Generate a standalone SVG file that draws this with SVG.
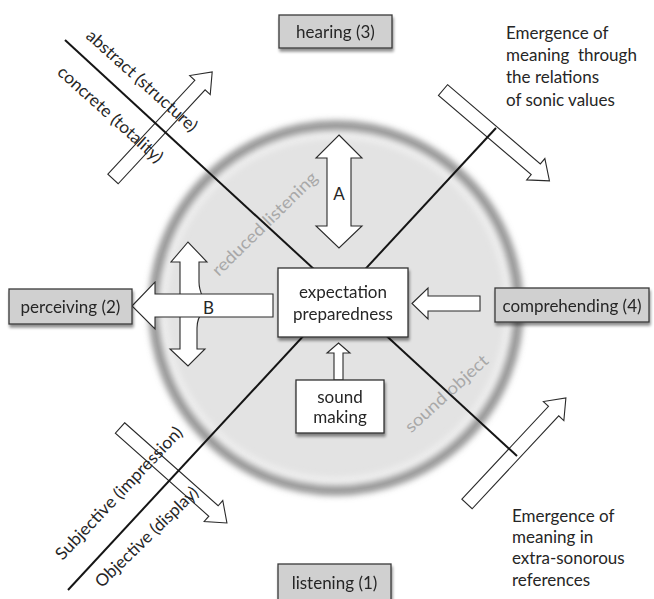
<svg xmlns="http://www.w3.org/2000/svg" width="654" height="599" viewBox="0 0 654 599">
  <defs>
    <filter id="ringBlur" x="-20%" y="-20%" width="140%" height="140%">
      <feGaussianBlur stdDeviation="3"/>
    </filter>
    <filter id="boxShadow" x="-20%" y="-20%" width="150%" height="160%">
      <feGaussianBlur in="SourceAlpha" stdDeviation="1.6"/>
      <feOffset dx="1" dy="2.5" result="off"/>
      <feComponentTransfer><feFuncA type="linear" slope="0.45"/></feComponentTransfer>
      <feMerge><feMergeNode/><feMergeNode in="SourceGraphic"/></feMerge>
    </filter>
  </defs>
  <style>
    .lbl { font-family: Lato, "Open Sans", sans-serif; font-size: 17px; fill: #262626; }
    .box-lbl { font-family: Lato, "Open Sans", sans-serif; font-size: 17px; fill: #262626; text-anchor: middle; }
    .axis-lbl { font-family: Lato, "Open Sans", sans-serif; font-size: 17px; fill: #262626; }
    .zone-lbl { font-family: Lato, "Open Sans", sans-serif; font-size: 17px; fill: #a8a8a8; }
    .mode { fill: #d0d0d0; stroke: #3a3a3a; stroke-width: 1.3; }
    .plain { fill: #ffffff; stroke: #333333; stroke-width: 1.3; }
    .arrow { fill: #ffffff; stroke: #2a2a2a; stroke-width: 1.1; stroke-linejoin: miter; }
    .axis { stroke: #151515; stroke-width: 2; fill: none; }
  </style>

  <!-- field of listening -->
  <g id="field">
    <circle cx="336" cy="308" r="183" fill="#e3e3e3"/>
    <circle cx="336" cy="308" r="173" fill="none" stroke="#f1f1f1" stroke-width="6" filter="url(#ringBlur)"/>
    <circle cx="336" cy="308" r="183" fill="none" stroke="#939393" stroke-width="9" filter="url(#ringBlur)"/>
  </g>

  <!-- outer diagonal arrows -->
  <g id="outer-arrows">
    <path class="arrow" d="M0,-7 L128,-7 L128,-14 L146,0 L128,14 L128,7 L0,7 Z" transform="translate(113,179) rotate(-47.2)"/>
    <path class="arrow" d="M0,-7 L122,-7 L122,-14 L140,0 L122,14 L122,7 L0,7 Z" transform="translate(443,90) rotate(40.5)"/>
    <path class="arrow" d="M0,-7 L125,-7 L125,-14 L143,0 L125,14 L125,7 L0,7 Z" transform="translate(120,428) rotate(41.6)"/>
    <path class="arrow" d="M0,-7 L127,-7 L127,-14 L145,0 L127,14 L127,7 L0,7 Z" transform="translate(467,504) rotate(-47)"/>
  </g>

  <!-- connectors -->
  <g id="connectors">
    <line class="axis" x1="65" y1="40" x2="517" y2="456"/>
    <line class="axis" x1="68" y1="590" x2="496" y2="128"/>
    <!-- A : hearing <-> expectation -->
    <path class="arrow" d="M339,135 L362,158 L351,158 L351,226 L362,226 L339,248 L316,226 L327,226 L327,158 L316,158 Z"/>
    <!-- B : vertical split -->
    <path class="arrow" d="M180,300 L180,262 L171,262 L188,242 L207,262 L199,262 L199,282 C199,290 201,293 204,300 Z"/>
    <path class="arrow" d="M180,312 L180,349 L170,349 L188,366 L205,349 L197,349 L197,328 C197,321 199,316 203,312 Z"/>
    <!-- B : expectation -> perceiving -->
    <path class="arrow" d="M132,306 L155,282 L155,294 L273,294 L273,317 L155,317 L155,329 Z"/>
    <!-- comprehending -> expectation -->
    <path class="arrow" d="M412,303.5 L428,288 L428,296 L480,296 L480,311 L428,311 L428,319 Z"/>
    <!-- sound making -> expectation -->
    <path class="arrow" d="M338.5,343 L350,353 L343,353 L343,380 L334,380 L334,353 L327,353 Z"/>
    <text class="lbl" x="339" y="200" text-anchor="middle">A</text>
    <text class="lbl" x="208.5" y="314" text-anchor="middle">B</text>
  </g>

  <!-- axis labels -->
  <g id="axis-labels">
    <text class="axis-lbl" transform="translate(85,37.2) rotate(42)" textLength="143" lengthAdjust="spacingAndGlyphs">abstract (structure)</text>
    <text class="axis-lbl" transform="translate(56.3,73.5) rotate(42)" textLength="135" lengthAdjust="spacingAndGlyphs">concrete (totality)</text>
    <text class="axis-lbl" transform="translate(62.5,560.9) rotate(-46.5)" textLength="176" lengthAdjust="spacingAndGlyphs">Subjective (impression)</text>
    <text class="axis-lbl" transform="translate(101.7,588.4) rotate(-44)" textLength="136" lengthAdjust="spacingAndGlyphs">Objective (display)</text>
    <text class="zone-lbl" transform="translate(218.7,276.9) rotate(-44.4)" textLength="140" lengthAdjust="spacingAndGlyphs">reduced listening</text>
    <text class="zone-lbl" transform="translate(411.2,433.5) rotate(-42.3)" textLength="106" lengthAdjust="spacingAndGlyphs">sound object</text>
  </g>

  <!-- nodes -->
  <g id="hearing" filter="url(#boxShadow)">
    <rect class="mode" x="279" y="15" width="113" height="33"/>
    <text class="box-lbl" x="335.5" y="38">hearing (3)</text>
  </g>
  <g id="listening" filter="url(#boxShadow)">
    <rect class="mode" x="278" y="564" width="113" height="44"/>
    <text class="box-lbl" x="334.5" y="589">listening (1)</text>
  </g>
  <g id="perceiving" filter="url(#boxShadow)">
    <rect class="mode" x="9" y="289" width="123" height="35"/>
    <text class="box-lbl" x="70.5" y="313">perceiving (2)</text>
  </g>
  <g id="comprehending" filter="url(#boxShadow)">
    <rect class="mode" x="495" y="288" width="154" height="34"/>
    <text class="box-lbl" x="572" y="312">comprehending (4)</text>
  </g>
  <g id="expectation" filter="url(#boxShadow)">
    <rect class="plain" x="278" y="268" width="130" height="69"/>
    <text class="box-lbl" x="343" y="298">expectation</text>
    <text class="box-lbl" x="343" y="320">preparedness</text>
  </g>
  <g id="sound-making" filter="url(#boxShadow)">
    <rect class="plain" x="296" y="380" width="88" height="53"/>
    <text class="box-lbl" x="340" y="403">sound</text>
    <text class="box-lbl" x="340" y="423">making</text>
  </g>

  <!-- meaning notes -->
  <g id="note-sonic-values">
    <text class="lbl" x="506" y="39">Emergence of</text>
    <text class="lbl" x="506" y="61" xml:space="preserve">meaning  through</text>
    <text class="lbl" x="506" y="83">the relations</text>
    <text class="lbl" x="506" y="106">of sonic values</text>
  </g>
  <g id="note-extra-sonorous">
    <text class="lbl" x="512" y="522">Emergence of</text>
    <text class="lbl" x="512" y="543">meaning in</text>
    <text class="lbl" x="512" y="564">extra-sonorous</text>
    <text class="lbl" x="512" y="586">references</text>
  </g>
</svg>
